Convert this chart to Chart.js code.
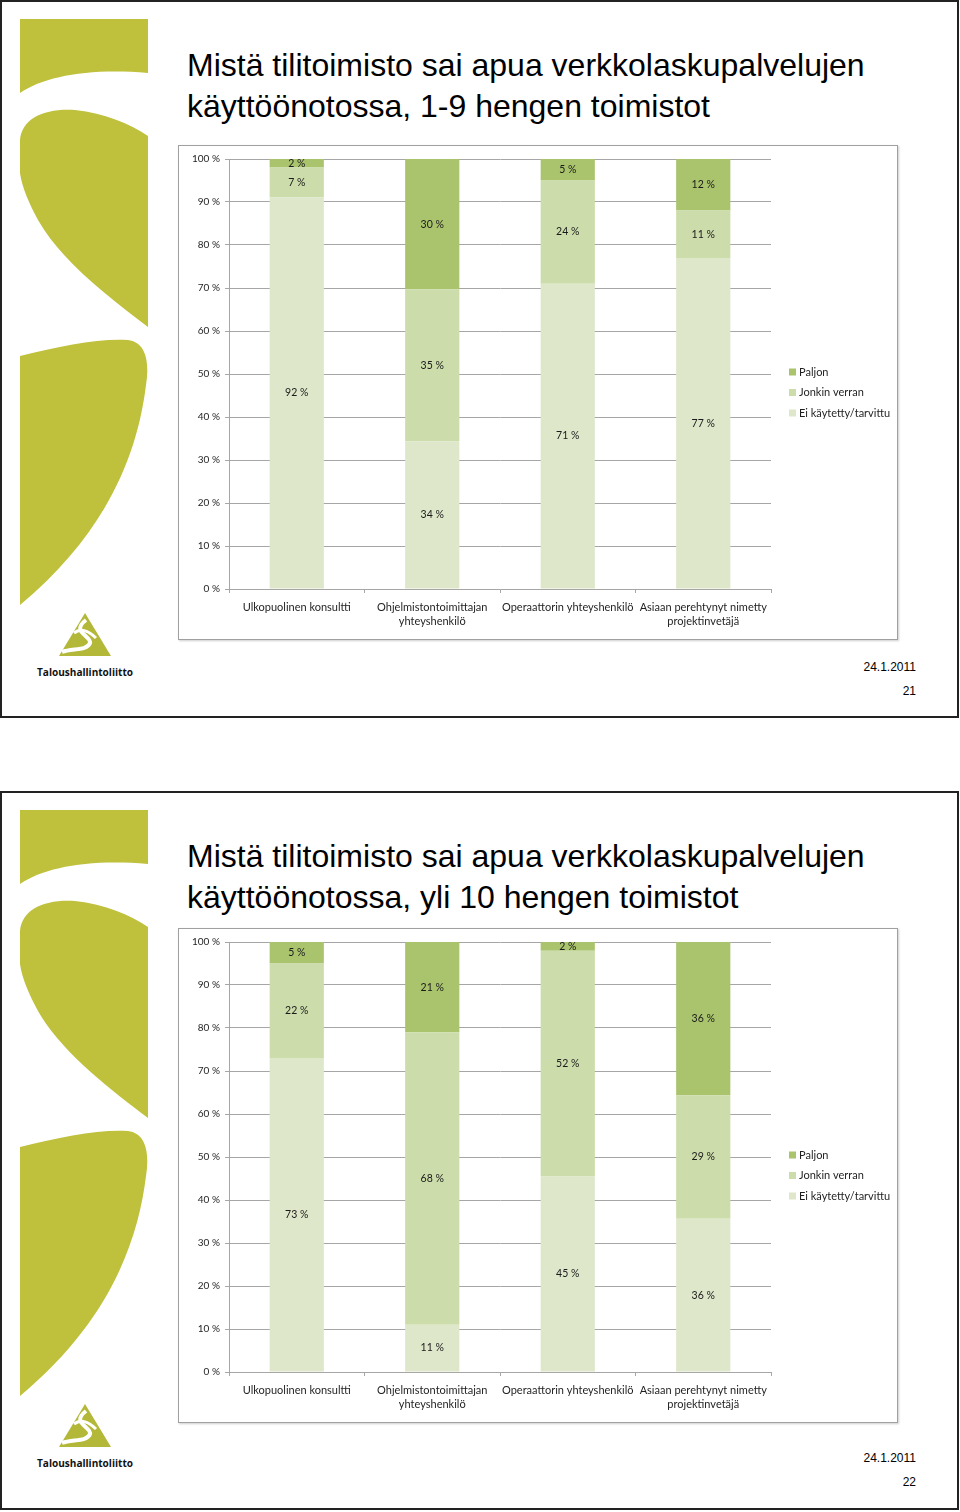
<!DOCTYPE html>
<html>
<head>
<meta charset="utf-8">
<script src="https://cdn.jsdelivr.net/npm/chart.js@4.4.1/dist/chart.umd.min.js"></script>
<style>
  body { margin: 0; background: #fff; }
  #page { position: relative; width: 960px; height: 1512px; overflow: hidden; }
  #decor { position: absolute; left: 0; top: 0; }
  .chartBox {
    position: absolute; left: 178px; width: 720px; height: 495px;
    box-sizing: border-box; border: 1px solid #a0a0a0; background: #fff;
    box-shadow: 1px 1px 2px rgba(0,0,0,0.2);
  }
  .chartBox canvas { position: absolute; left: 0; top: 0; }
</style>
</head>
<body>
<div id="page">
  <svg id="decor" width="960" height="1512" xmlns="http://www.w3.org/2000/svg">
    <defs>
      <g id="slideArt">
        <!-- vihreat koristekuviot vasemmalla -->
        <path fill="#bfc03b" d="M20,19 H148 V73 C90,68 45,76 20,93 Z"/>
        <path fill="#bfc03b" d="M20,140 C22,118 45,108 75,110 C105,113 130,124 148,136 V327 C110,298 62,262 38,220 C30,205 22,188 20,173 Z"/>
        <path fill="#bfc03b" d="M20,356 C60,346 100,338 128,340 C145,342 150,360 146,385 C138,450 110,530 20,605 Z"/>
        <!-- logo -->
        <path fill="#b3b838" d="M85,613 L111,656 L59,656 Z"/>
        <path fill="none" stroke="#fff" stroke-width="4" d="M86,620 C70,632 92,636 90,643 C87,651 72,648 62,652"/>
        <path fill="none" stroke="#fff" stroke-width="3" d="M74,633 C80,628 88,630 96,638"/>
        <text x="37" y="676" font-family="Open Sans" font-weight="bold" font-size="11" textLength="96" lengthAdjust="spacingAndGlyphs" fill="#111">Taloushallintoliitto</text>
      </g>
    </defs>

    <g>
      <rect x="1" y="1" width="957" height="716" fill="none" stroke="#222" stroke-width="2"/>
      <use href="#slideArt"/>
      <text x="187" y="76" font-family="Liberation Sans" font-size="32" fill="#000">Mistä tilitoimisto sai apua verkkolaskupalvelujen</text>
      <text x="187" y="117" font-family="Liberation Sans" font-size="32" fill="#000">käyttöönotossa, 1-9 hengen toimistot</text>
      <text x="916" y="671" text-anchor="end" font-family="Liberation Sans" font-size="12" fill="#000">24.1.2011</text>
      <text x="916" y="695" text-anchor="end" font-family="Liberation Sans" font-size="12" fill="#000">21</text>
    </g>

    <g transform="translate(0,791)">
      <rect x="1" y="1" width="957" height="717" fill="none" stroke="#222" stroke-width="2"/>
      <use href="#slideArt"/>
      <text x="187" y="76" font-family="Liberation Sans" font-size="32" fill="#000">Mistä tilitoimisto sai apua verkkolaskupalvelujen</text>
      <text x="187" y="117" font-family="Liberation Sans" font-size="32" fill="#000">käyttöönotossa, yli 10 hengen toimistot</text>
      <text x="916" y="671" text-anchor="end" font-family="Liberation Sans" font-size="12" fill="#000">24.1.2011</text>
      <text x="916" y="695" text-anchor="end" font-family="Liberation Sans" font-size="12" fill="#000">22</text>
    </g>
  </svg>

  <div class="chartBox" style="top:145px"><canvas id="chartSmall" width="718" height="493"></canvas></div>
  <div class="chartBox" style="top:928px"><canvas id="chartLarge" width="718" height="493"></canvas></div>
</div>

<script>
// Kategoriat ja sarjat
const categories = [
    ['Ulkopuolinen konsultti'],
    ['Ohjelmistontoimittajan', 'yhteyshenkilö'],
    ['Operaattorin yhteyshenkilö'],
    ['Asiaan perehtynyt nimetty', 'projektinvetäjä']
];
const seriesNames = ['Ei käytetty/tarvittu', 'Jonkin verran', 'Paljon'];
const seriesColors = ['#dee7ca', '#ccdcaa', '#aac46e'];
const yTickValues = [0, 10, 20, 30, 40, 50, 60, 70, 80, 90, 100];

// 1-9 hengen toimistot
const smallEi = [92, 34, 71, 77];
const smallJonkin = [7, 35, 24, 11];
const smallPaljon = [2, 30, 5, 12];

// yli 10 hengen toimistot
const largeEi = [73, 11, 45, 36];
const largeJonkin = [22, 68, 52, 29];
const largePaljon = [5, 21, 2, 36];

const gridColor = '#a6a6a6';
const textColor = '#1f1f1f';

// Arvot segmenttien keskelle
const valueLabels = {
    id: 'valueLabels',
    afterDatasetsDraw(chart) {
        const ctx = chart.ctx;
        ctx.save();
        ctx.font = '10.5px Lato';
        ctx.fillStyle = '#1a1a1a';
        ctx.textAlign = 'center';
        ctx.textBaseline = 'middle';
        chart.data.datasets.forEach((d, k) => {
            const meta = chart.getDatasetMeta(k);
            meta.data.forEach((bar, i) => {
                const y = (bar.y + bar.base) / 2;
                ctx.fillText(d.shown[i] + ' %', bar.x, y);
            });
        });
        ctx.restore();
    }
};

// Selite oikealle, Paljon ylimpänä
const sideLegend = {
    id: 'sideLegend',
    afterDraw(chart) {
        const ctx = chart.ctx;
        const ds = chart.data.datasets;
        const x = chart.chartArea.right + 18;
        const cy = chart.height / 2;
        ctx.save();
        ctx.font = '11px Lato';
        ctx.textBaseline = 'middle';
        ctx.textAlign = 'left';
        for (let j = 0; j < ds.length; j++) {
            const d = ds[ds.length - 1 - j];
            const y = cy + (j - 1) * 20.5;
            ctx.fillStyle = d.backgroundColor;
            ctx.fillRect(x, y - 3.5, 7, 7);
            ctx.fillStyle = textColor;
            ctx.fillText(d.label, x + 10, y);
        }
        ctx.restore();
    }
};

function makeChart(canvasId, ei, jonkin, paljon) {
    const raw = [ei, jonkin, paljon];
    const totals = categories.map((c, i) => ei[i] + jonkin[i] + paljon[i]);

    const datasets = raw.map((vals, k) => ({
        label: seriesNames[k],
        data: vals.map((v, i) => v / totals[i] * 100),
        shown: vals,
        backgroundColor: seriesColors[k],
        borderWidth: 0,
        barPercentage: 0.4,
        categoryPercentage: 1.0,
    }));

    const ctx = document.getElementById(canvasId).getContext('2d');
    return new Chart(ctx, {
        type: 'bar',
        data: { labels: categories, datasets: datasets },
        options: {
            responsive: false,
            animation: false,
            layout: { padding: { top: 13, right: 126, left: 0, bottom: 0 } },
            plugins: {
                legend: { display: false },
                tooltip: { enabled: false }
            },
            scales: {
                x: {
                    stacked: true,
                    grid: { drawOnChartArea: false, color: gridColor, tickLength: 4, offset: true },
                    border: { color: gridColor },
                    ticks: {
                        font: { family: 'Lato', size: 11, lineHeight: 1.27 },
                        color: textColor,
                        padding: 7,
                        maxRotation: 0,
                        autoSkip: false
                    },
                    afterFit: s => { s.height = 50; }
                },
                y: {
                    stacked: true,
                    min: 0,
                    max: 100,
                    grid: { color: gridColor, tickLength: 4 },
                    border: { color: gridColor },
                    ticks: {
                        font: { family: 'Lato', size: 10 },
                        color: textColor,
                        padding: 5,
                        callback: v => v + ' %'
                    },
                    afterBuildTicks: s => { s.ticks = yTickValues.map(v => ({ value: v })); },
                    afterFit: s => { s.width = 50; }
                }
            }
        },
        plugins: [valueLabels, sideLegend]
    });
}

makeChart('chartSmall', smallEi, smallJonkin, smallPaljon);
makeChart('chartLarge', largeEi, largeJonkin, largePaljon);
</script>
</body>
</html>
